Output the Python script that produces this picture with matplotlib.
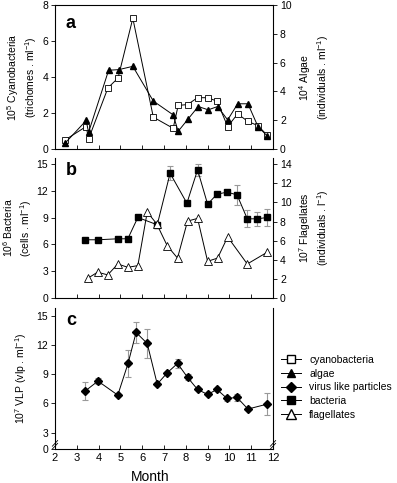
import numpy as np
import matplotlib
matplotlib.use("Agg")
import matplotlib.pyplot as plt
from matplotlib.lines import Line2D

plt.rcParams['font.family'] = ['Liberation Sans', 'DejaVu Sans']
plt.rcParams['font.size'] = 7
plt.rcParams['mathtext.fontset'] = 'custom'
plt.rcParams['mathtext.rm'] = 'Liberation Sans'
plt.rcParams['mathtext.it'] = 'Liberation Sans'

# panel a
cyano_m = [2.46, 3.43, 3.54, 4.43, 4.89, 5.57, 6.51, 7.42, 7.65, 8.08, 8.54, 9.0, 9.43, 9.92, 10.38, 10.85, 11.31, 11.72]
cyano = [0.50, 1.25, 0.56, 3.40, 3.94, 7.26, 1.77, 1.15, 2.42, 2.47, 2.85, 2.85, 2.66, 1.25, 1.95, 1.53, 1.30, 0.78]
algae_m = [2.46, 3.43, 3.54, 4.46, 4.92, 5.57, 6.51, 7.42, 7.65, 8.11, 8.57, 9.03, 9.46, 9.92, 10.38, 10.85, 11.31, 11.72]
algae = [0.40, 1.98, 1.16, 5.47, 5.51, 5.74, 3.33, 2.37, 1.23, 2.09, 2.95, 2.72, 2.95, 2.02, 3.14, 3.14, 1.56, 0.93]

# panel b
bact_m = [3.38, 3.97, 4.88, 5.34, 5.80, 6.69, 7.28, 8.05, 8.54, 9.0, 9.43, 9.89, 10.35, 10.82, 11.28, 11.74]
bact = [6.53, 6.53, 6.64, 6.64, 9.03, 8.21, 13.99, 10.63, 14.37, 10.52, 11.64, 11.87, 11.57, 8.88, 8.88, 9.03]
bact_err = [0, 0, 0, 0, 0, 0, 0.8, 0, 0.7, 0, 0, 0, 1.15, 0.95, 0.8, 0.95]
flag_m = [3.51, 3.95, 4.42, 4.88, 5.34, 5.80, 6.23, 6.66, 7.15, 7.62, 8.08, 8.54, 9.0, 9.46, 9.92, 10.82, 11.72]
flag = [2.07, 2.70, 2.42, 3.56, 3.21, 3.39, 8.99, 7.78, 5.46, 4.18, 8.05, 8.33, 3.84, 4.18, 6.39, 3.56, 4.77]

# panel c
vlp_m = [3.38, 3.97, 4.88, 5.35, 5.72, 6.23, 6.69, 7.15, 7.62, 8.08, 8.54, 9.0, 9.43, 9.89, 10.35, 10.85, 11.74]
vlp = [7.27, 8.30, 6.86, 10.11, 13.29, 12.16, 7.99, 9.15, 10.11, 8.68, 7.44, 6.93, 7.44, 6.52, 6.62, 5.43, 5.94]
vlp_err = [0.95, 0.3, 0, 1.4, 1.05, 1.45, 0, 0, 0.5, 0.3, 0, 0, 0, 0.3, 0.4, 0, 1.15]

months = list(range(2, 13))
grey = '#999999'

fig = plt.figure(figsize=(3.97, 4.83), dpi=100)
L, Wd = 55/397, 218/397
axa = fig.add_axes([L, 1-149/483, Wd, 144/483])
axb = fig.add_axes([L, 1-298/483, Wd, 140/483])
axc = fig.add_axes([L, 1-449/483, Wd, 141/483])

for ax in (axa, axb, axc):
    ax.set_xlim(2, 12)
    ax.set_xticks(months)
    ax.tick_params(axis='x', direction='in', length=3, width=0.6)
    ax.tick_params(axis='y', direction='out', length=3, width=0.6, pad=2, labelsize=7.5)
    for s in ax.spines.values():
        s.set_linewidth(0.7)

# ---- a
axa.plot(cyano_m, cyano, '-s', color='black', lw=0.7, ms=5, mfc='white', mec='black', mew=0.6, zorder=3)
axa.set_ylim(0, 8)
axa.set_yticks([0, 2, 4, 6, 8])
axa.set_xticklabels([])
axa.set_ylabel('10$^5$ Cyanobacteria\n(trichomes . ml$^{-1}$)', labelpad=2, fontsize=7.5)
axa2 = axa.twinx()
axa2.plot(algae_m, algae, '-^', color='black', lw=0.7, ms=5, mfc='black', mec='black')
axa2.set_ylim(0, 10)
axa2.set_yticks([0, 2, 4, 6, 8, 10])
axa2.tick_params(axis='y', direction='out', length=3, width=0.6, pad=2, labelsize=7.5)
axa2.set_ylabel('10$^4$ Algae\n(individuals . ml$^{-1}$)', labelpad=4, fontsize=7.5)
axa.text(0.05, 0.93, 'a', transform=axa.transAxes, fontsize=13, fontweight='bold', va='top')

# ---- b
axb.errorbar(bact_m, bact, yerr=bact_err, fmt='-s', color='black', lw=0.7, ms=5,
             ecolor=grey, elinewidth=0.8, capsize=2.5, capthick=0.8, zorder=3)
axb.set_ylim(0, 15.7)
axb.set_yticks([0, 3, 6, 9, 12, 15])
axb.set_xticklabels([])
axb.spines['top'].set_visible(False)
axb.set_ylabel('10$^6$ Bacteria\n(cells . ml$^{-1}$)', labelpad=2, fontsize=7.5)
axb2 = axb.twinx()
axb2.plot(flag_m, flag, '-^', color='black', lw=0.7, ms=5.5, mfc='white', mec='black', mew=0.6)
axb2.set_ylim(0, 15.7*14/15)
axb2.set_yticks([0, 2, 4, 6, 8, 10, 12, 14])
axb2.spines['top'].set_visible(False)
axb2.tick_params(axis='y', direction='out', length=3, width=0.6, pad=2, labelsize=7.5)
axb2.set_ylabel('10$^7$ Flagellates\n(individuals . l$^{-1}$)', labelpad=4, fontsize=7.5)
axb.text(0.05, 0.97, 'b', transform=axb.transAxes, fontsize=13, fontweight='bold', va='top')

# ---- c (broken axis at the bottom)
y0 = 1.33
axc.errorbar(vlp_m, vlp, yerr=vlp_err, fmt='-D', color='black', lw=0.7, ms=4.5,
             ecolor=grey, elinewidth=0.8, capsize=2.5, capthick=0.8, zorder=3)
axc.set_ylim(y0, 15.8)
axc.set_yticks([y0, 3, 6, 9, 12, 15])
axc.set_yticklabels(['0', '3', '6', '9', '12', '15'])
axc.spines['top'].set_visible(False)
axc.tick_params(axis='x', pad=3, labelsize=8)
axc.set_ylabel('10$^7$ VLP (vlp . ml$^{-1}$)', labelpad=5, fontsize=7.5)
axc.text(0.05, 0.97, 'c', transform=axc.transAxes, fontsize=13, fontweight='bold', va='top')
axc2 = axc.twinx()
axc2.set_yticks([])
axc2.spines['top'].set_visible(False)
for xb in (0, 1):
    for dy in (0.02, 0.04):
        axc.plot([xb - 0.012, xb + 0.012], [dy - 0.02, dy + 0.02], transform=axc.transAxes,
                 color='black', lw=0.6, clip_on=False, zorder=5)
fig.text(150/397, 1-477/483, 'Month', fontsize=10, ha='center', va='center')

# legend
handles = [
    Line2D([], [], color='black', lw=0.7, marker='s', ms=6, mfc='white', mec='black'),
    Line2D([], [], color='black', lw=0.7, marker='^', ms=6, mfc='black'),
    Line2D([], [], color='black', lw=0.7, marker='D', ms=5, mfc='black'),
    Line2D([], [], color='black', lw=0.7, marker='s', ms=6, mfc='black'),
    Line2D([], [], color='black', lw=0.7, marker='^', ms=6.5, mfc='white', mec='black'),
]
labels = ['cyanobacteria', 'algae', 'virus like particles', 'bacteria', 'flagellates']
fig.legend(handles, labels, loc='upper left', bbox_to_anchor=(281/397, 1-355/483),
           frameon=False, borderpad=0, borderaxespad=0, handlelength=1.9,
           handletextpad=0.8, labelspacing=0.35, fontsize=7.5)

fig.savefig('out.png', dpi=100)
